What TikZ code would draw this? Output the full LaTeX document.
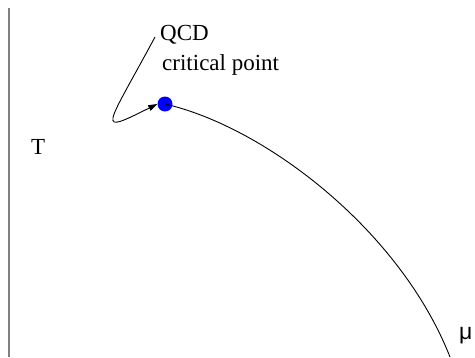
\documentclass[tikz,border=0pt]{standalone}
\usepackage{fontspec}
\setmainfont{Liberation Serif}
\newfontfamily\musans{Liberation Sans}
\usetikzlibrary{arrows.meta}
\begin{document}
\begin{tikzpicture}[x=1pt,y=-1pt,
  lbl/.style={inner sep=0pt,anchor=base west,font=\fontsize{23}{28}\selectfont},
  cp/.style={circle,fill=blue,minimum size=15pt,inner sep=0pt},
  axis/.style={draw=gray,line width=2pt},
  phase/.style={draw=black,line width=0.9pt},
  pointer/.style={draw=black,line width=0.9pt,-{Triangle[length=9pt,width=6pt]}}]
\useasboundingbox (0,0) rectangle (475,357);
\coordinate (axtop) at (8.5,8);
\coordinate (axbot) at (8.5,357);
\draw[axis] (axtop) -- (axbot);
\node[lbl] (T) at (31,154) {T};
\node[lbl] (qcd) at (160,40) {QCD};
\node[lbl] (crit) at (162,70) {critical point};
\node[lbl,font=\fontsize{23}{28}\selectfont\musans] (mu) at (459,339) {μ};
\node[cp] (dot) at (165,104) {};
\coordinate (cend) at (450,357);
\coordinate (astart) at (155,37);
\draw[phase] (dot.center) .. controls (265,127) and (400,230) .. (cend);
\draw[pointer] (astart) .. controls (105,130) and (95,135) .. (dot.west);
\end{tikzpicture}
\end{document}
